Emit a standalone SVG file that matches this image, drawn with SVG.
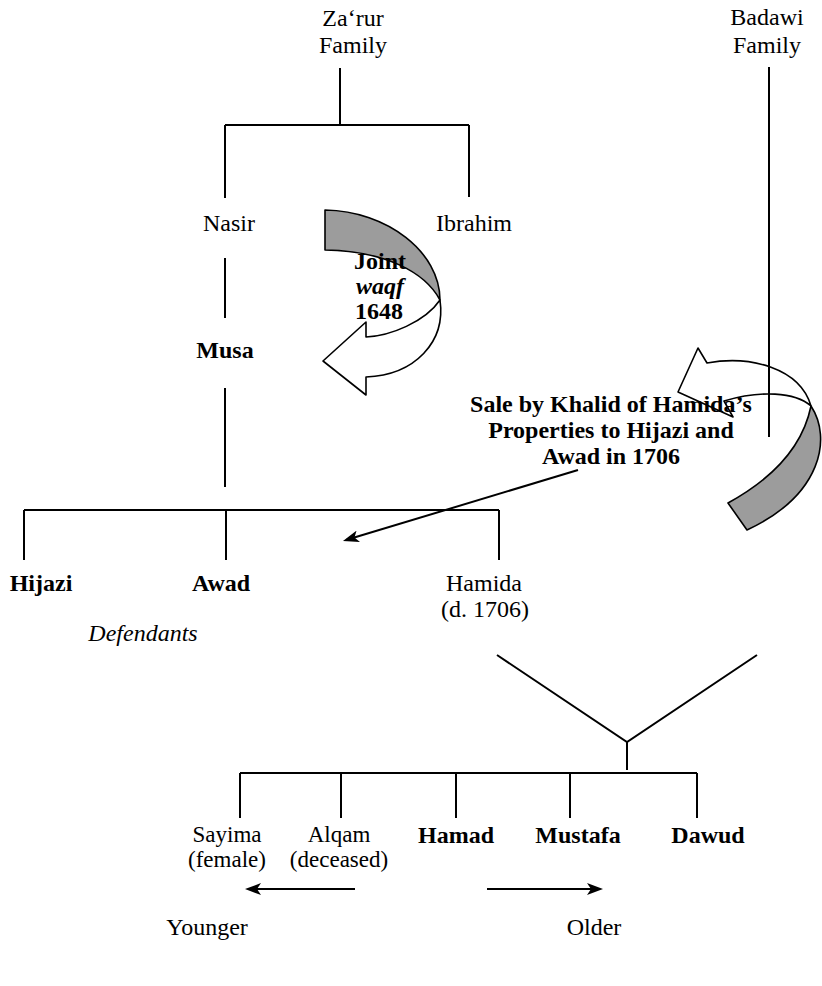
<svg xmlns="http://www.w3.org/2000/svg" width="822" height="986" viewBox="0 0 822 986">
  <style>
    text { font-family: "Liberation Serif", "Times New Roman", serif; font-size: 24px; fill: #000; text-anchor: middle; }
    .b { font-weight: bold; }
    .i { font-style: italic; }
    .sm { font-size: 23px; }
    .ln { stroke: #000; stroke-width: 2; fill: none; }
    .blk { stroke: #000; stroke-width: 1.6; stroke-linejoin: round; }
    .back { fill: #9c9c9c; }
    .front { fill: #fff; }
  </style>
  <defs>
    <marker id="ah" viewBox="0 0 16 12" refX="12" refY="6" markerWidth="16" markerHeight="12" orient="auto" markerUnits="userSpaceOnUse">
      <path d="M0,0 L16,6 L0,12 L4,6 Z" fill="#000"/>
    </marker>
  </defs>

  <rect width="822" height="986" fill="#fff"/>

  <!-- curved block arrows (drawn first so lines and labels sit on top) -->
  <g id="waqf-arrow">
    <path class="blk back" d="M325,210 C387,211 440,252 440,300 C425,272 385,251 325,250 Z"/>
    <path class="blk front" d="M440,300 C446,342 415,375 366,377 L366,395 L323,361 L366,322 L366,337 C390,336 425,322 440,300 Z"/>
  </g>
  <g id="sale-arrow">
    <path class="blk back" d="M811,406 C832,438 822,495 747,530 L728,503 C770,480 802,450 811,406 Z"/>
    <path class="blk front" d="M678,392 L698,348 L707,363 C750,355 800,368 811,406 C795,392 760,390 724,401 L733,417 Z"/>
  </g>

  <!-- family tree connectors -->
  <g id="connectors" class="ln">
    <path d="M340,68 V125 M225,125 H469 M225,125 V198 M469,125 V197"/>
    <path d="M769,67 V437"/>
    <path d="M225,258 V318"/>
    <path d="M225,388 V487"/>
    <path d="M24,510 H499 M24,510 V560 M226,510 V560 M499,510 V560"/>
    <path d="M497,655 L627,742 L757,655 M627,742 V770"/>
    <path d="M240,773 H697 M240,773 V818 M341,773 V818 M456,773 V818 M570,773 V818 M697,773 V818"/>
    <path d="M578,470 L346.8,539.8" marker-end="url(#ah)"/>
    <path d="M355,889 H249" marker-end="url(#ah)"/>
    <path d="M487,889 H599" marker-end="url(#ah)"/>
  </g>

  <!-- people and families -->
  <g id="zarur"><text x="353" y="26">Za‘rur</text><text x="353" y="53">Family</text></g>
  <g id="badawi"><text x="767" y="25">Badawi</text><text x="767" y="53">Family</text></g>
  <g id="nasir"><text x="229" y="231">Nasir</text></g>
  <g id="ibrahim"><text x="474" y="231">Ibrahim</text></g>
  <g id="musa"><text class="b" x="225" y="358">Musa</text></g>
  <g id="waqf-label">
    <text class="b" x="380" y="269">Joint</text>
    <text class="b i" x="380" y="294">waqf</text>
    <text class="b" x="379" y="319">1648</text>
  </g>
  <g id="sale-label">
    <text class="b" x="611" y="412">Sale by Khalid of Hamida’s</text>
    <text class="b" x="611" y="438">Properties to Hijazi and</text>
    <text class="b" x="611" y="464">Awad in 1706</text>
  </g>
  <g id="hijazi"><text class="b" x="41" y="591">Hijazi</text></g>
  <g id="awad"><text class="b" x="221" y="591">Awad</text></g>
  <g id="hamida"><text x="484" y="591">Hamida</text><text x="485" y="617">(d. 1706)</text></g>
  <g id="defendants"><text class="i" x="143" y="641">Defendants</text></g>
  <g id="sayima"><text class="sm" x="227" y="842">Sayima</text><text class="sm" x="227" y="867">(female)</text></g>
  <g id="alqam"><text class="sm" x="339" y="842">Alqam</text><text class="sm" x="339" y="867">(deceased)</text></g>
  <g id="hamad"><text class="b" x="456" y="843">Hamad</text></g>
  <g id="mustafa"><text class="b" x="578" y="843">Mustafa</text></g>
  <g id="dawud"><text class="b" x="708" y="843">Dawud</text></g>
  <g id="younger"><text x="207" y="935">Younger</text></g>
  <g id="older"><text x="594" y="935">Older</text></g>
</svg>
